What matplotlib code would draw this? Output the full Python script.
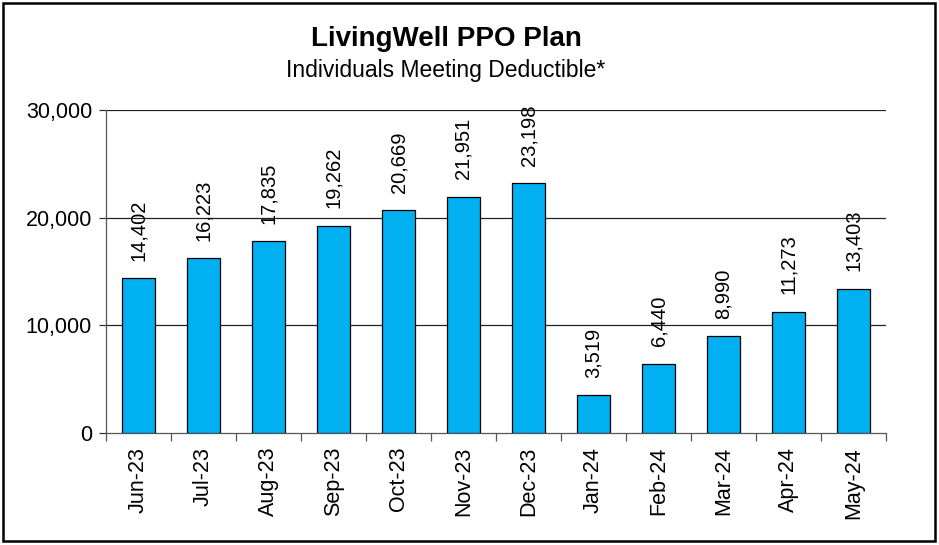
import numpy as np
import matplotlib
matplotlib.use("Agg")
import matplotlib.pyplot as plt
from matplotlib.patches import Rectangle

plt.rcParams["font.family"] = ["Liberation Sans", "DejaVu Sans"]

MONTHS = ["Jun-23", "Jul-23", "Aug-23", "Sep-23", "Oct-23", "Nov-23",
          "Dec-23", "Jan-24", "Feb-24", "Mar-24", "Apr-24", "May-24"]
MEMBERS = [14402, 16223, 17835, 19262, 20669, 21951,
           23198, 3519, 6440, 8990, 11273, 13403]
Y_TICKS = [0, 10000, 20000, 30000]

TITLE = "LivingWell PPO Plan"
SUBTITLE = "Individuals Meeting Deductible*"
BAR_COLOR = "#00B0F0"

W, H = 939, 545
fig = plt.figure(figsize=(W / 100, H / 100), dpi=100)
ax = fig.add_axes([106 / W, 1 - 433 / H, (886 - 106) / W, (433 - 110) / H])

x = np.arange(len(MONTHS))
ax.bar(x, MEMBERS, width=0.5, color=BAR_COLOR, edgecolor="black",
       linewidth=0.9, zorder=3)

for xi, v in zip(x, MEMBERS):
    ax.annotate(f"{v:,}", (xi, v), xytext=(0, 12.5), textcoords="offset points",
                rotation=90, ha="center", va="bottom", fontsize=14.5, zorder=4)

# horizontal gridlines
ax.set_ylim(0, 30000)
ax.set_yticks(Y_TICKS)
ax.set_yticklabels([f"{t:,}" for t in Y_TICKS], fontsize=15.5)
for t in Y_TICKS[1:]:
    ax.axhline(t, color="#222222", linewidth=0.9, zorder=1)

# category ticks between bars, labels at bar centres
ax.set_xlim(-0.5, len(MONTHS) - 0.5)
ax.set_xticks(np.arange(len(MONTHS) + 1) - 0.5)
ax.set_xticklabels([])
ax.set_xticks(x, minor=True)
ax.set_xticklabels(MONTHS, minor=True, rotation=90, fontsize=15.5)
ax.tick_params(axis="x", which="major", length=6, width=0.9, color="#555555")
ax.tick_params(axis="x", which="minor", length=0, pad=10)
ax.tick_params(axis="y", length=5, width=0.9, pad=5, color="#333333")

for side in ("top", "right"):
    ax.spines[side].set_visible(False)
ax.spines["left"].set_color("#555555")
ax.spines["bottom"].set_color("#555555")
ax.spines["left"].set_linewidth(0.9)
ax.spines["bottom"].set_linewidth(0.9)

fig.text(446 / W, 1 - 39 / H, TITLE, ha="center", va="center",
         fontsize=20, fontweight="bold")
fig.text(446 / W, 1 - 70 / H, SUBTITLE, ha="center", va="center",
         fontsize=16.5)

fig.patches.append(Rectangle((3 / W, 4 / H), 932 / W, 538 / H,
                             transform=fig.transFigure, fill=False,
                             edgecolor="black", linewidth=1.8))

fig.savefig("out.png", dpi=100)
